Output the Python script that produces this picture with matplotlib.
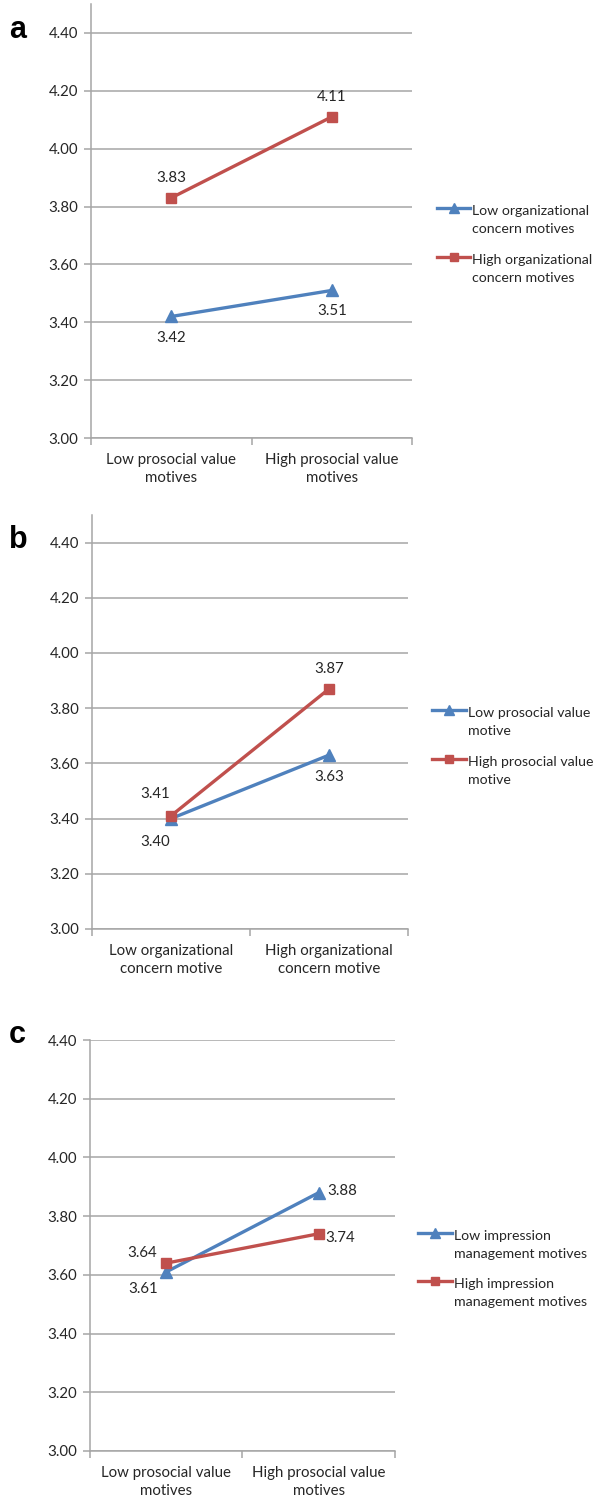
import matplotlib
matplotlib.use("Agg")
import matplotlib.pyplot as plt
from matplotlib.lines import Line2D

plt.rcParams['font.family'] = ['Lato', 'DejaVu Sans']

BLUE = '#4F81BD'
RED = '#C0504D'
GRID = '#A6A6A6'
TXT = '#262626'
FS = 10.8
LFS = 10.2

# Panel a
a_categories = ['Low prosocial value\nmotives', 'High prosocial value\nmotives']
a_low = [3.42, 3.51]
a_high = [3.83, 4.11]
a_legend = ['Low organizational\nconcern motives', 'High organizational\nconcern motives']

# Panel b
b_categories = ['Low organizational\nconcern motive', 'High organizational\nconcern motive']
b_low = [3.40, 3.63]
b_high = [3.41, 3.87]
b_legend = ['Low prosocial value\nmotive', 'High prosocial value\nmotive']

# Panel c
c_categories = ['Low prosocial value\nmotives', 'High prosocial value\nmotives']
c_low = [3.61, 3.88]
c_high = [3.64, 3.74]
c_legend = ['Low impression\nmanagement motives', 'High impression\nmanagement motives']

yticks = [3.00, 3.20, 3.40, 3.60, 3.80, 4.00, 4.20, 4.40]

W, H = 597, 1498
fig = plt.figure(figsize=(W / 100, H / 100), dpi=100)


def fx(px):
    return px / W


def fy(py):
    return 1 - py / H


def px_axes(left, right, top, bottom):
    return fig.add_axes([left / W, (H - bottom) / H, (right - left) / W, (bottom - top) / H])


def legend_entry(x0, x1, y, color, marker, ms, label):
    fig.add_artist(Line2D([fx(x0), fx(x1)], [fy(y), fy(y)], transform=fig.transFigure,
                          color=color, lw=2.4))
    fig.add_artist(Line2D([fx((x0 + x1) / 2)], [fy(y)], transform=fig.transFigure,
                          color=color, marker=marker, ms=ms, mec=color, mfc=color, lw=0))
    fig.text(fx(x1 + 2), fy(y + 25), label, ha='left', va='baseline', fontsize=LFS,
             color=TXT, linespacing=1.6)


def panel(ax, cats, low, high, ymax, low_offs, high_offs, leg_labels, leg_x, leg_y,
          letter, letter_xy):
    x = [0, 1]
    ax.set_xlim(-0.5, 1.5)
    ax.set_ylim(3.0, ymax)
    ax.set_yticks(yticks)
    ax.set_yticklabels(['%.2f' % v for v in yticks])
    ax.grid(axis='y', color=GRID, linewidth=1.1)
    ax.set_axisbelow(True)
    for s in ['top', 'right']:
        ax.spines[s].set_visible(False)
    for s in ['left', 'bottom']:
        ax.spines[s].set_color(GRID)
        ax.spines[s].set_linewidth(1.1)
    ax.tick_params(axis='y', length=5, color=GRID, width=1.1, labelsize=FS, labelcolor=TXT, pad=4)
    ax.set_xticks(x)
    ax.set_xticklabels(cats, linespacing=1.38)
    ax.tick_params(axis='x', which='major', length=0, labelsize=FS, labelcolor=TXT, pad=11)
    ax.set_xticks([-0.5, 0.5, 1.5], minor=True)
    ax.tick_params(axis='x', which='minor', length=5, color=GRID, width=1.1, direction='out')
    ax.plot(x, low, color=BLUE, lw=2.4, marker='^', ms=8, mec=BLUE, mfc=BLUE, zorder=3)
    ax.plot(x, high, color=RED, lw=2.4, marker='s', ms=7, mec=RED, mfc=RED, zorder=4)
    for xi, v, (dx, dy, ha) in zip(x, low, low_offs):
        ax.annotate('%.2f' % v, (xi, v), xytext=(dx, dy), textcoords='offset pixels',
                    ha=ha, va='center', fontsize=FS, color=TXT)
    for xi, v, (dx, dy, ha) in zip(x, high, high_offs):
        ax.annotate('%.2f' % v, (xi, v), xytext=(dx, dy), textcoords='offset pixels',
                    ha=ha, va='center', fontsize=FS, color=TXT)
    legend_entry(leg_x[0], leg_x[1], leg_y[0], BLUE, '^', 6.5, leg_labels[0])
    legend_entry(leg_x[0], leg_x[1], leg_y[1], RED, 's', 6, leg_labels[1])
    fig.text(fx(letter_xy[0]), fy(letter_xy[1]), letter, fontsize=22, fontweight='bold',
             family='Liberation Sans', ha='left', va='baseline', color='black')


ax_a = px_axes(91, 412, 4, 438)
panel(ax_a, a_categories, a_low, a_high, 4.5,
      [(0, -22, 'center'), (0, -21, 'center')],
      [(0, 20, 'center'), (0, 20, 'center')],
      a_legend, (437, 470), (208, 257), 'a', (9, 38))

ax_b = px_axes(92, 408, 515, 929)
panel(ax_b, b_categories, b_low, b_high, 4.5,
      [(-16, -23, 'center'), (0, -22, 'center')],
      [(-16, 22, 'center'), (0, 20, 'center')],
      b_legend, (432, 466), (710, 759), 'b', (9, 548))

ax_c = px_axes(90, 395, 1040, 1451)
panel(ax_c, c_categories, c_low, c_high, 4.4,
      [(-23, -17, 'center'), (9, 2, 'left')],
      [(-24, 10, 'center'), (7, -4, 'left')],
      c_legend, (418, 452), (1233, 1281), 'c', (9, 1043))

fig.savefig('out.png', dpi=100, facecolor='white')
